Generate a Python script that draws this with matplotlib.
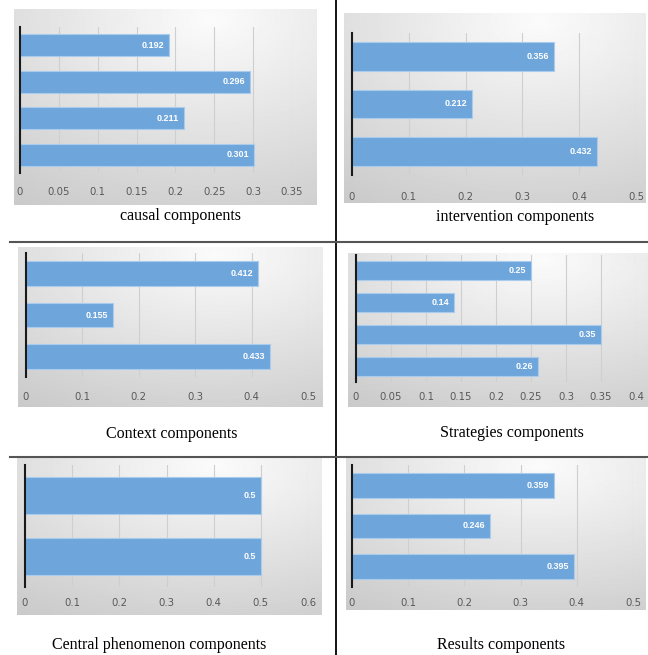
import numpy as np
import matplotlib
matplotlib.use("Agg")
import matplotlib.pyplot as plt

# values per panel, top bar first
causal = [0.192, 0.296, 0.211, 0.301]
intervention = [0.356, 0.212, 0.432]
context = [0.412, 0.155, 0.433]
strategies = [0.25, 0.14, 0.35, 0.26]
central = [0.5, 0.5]
results = [0.359, 0.246, 0.395]

causal_ticks = [0, 0.05, 0.1, 0.15, 0.2, 0.25, 0.3, 0.35]
intervention_ticks = [0, 0.1, 0.2, 0.3, 0.4, 0.5]
context_ticks = [0, 0.1, 0.2, 0.3, 0.4, 0.5]
strategies_ticks = [0, 0.05, 0.1, 0.15, 0.2, 0.25, 0.3, 0.35, 0.4]
central_ticks = [0, 0.1, 0.2, 0.3, 0.4, 0.5, 0.6]
results_ticks = [0, 0.1, 0.2, 0.3, 0.4, 0.5]

captions = ["causal components", "intervention components", "Context components",
            "Strategies components", "Central phenomenon components", "Results components"]

W, H = 648, 655
fig = plt.figure(figsize=(W / 100, H / 100), dpi=100)
fig.patch.set_facecolor("white")

BAR = "#6ea6dc"


def px_axes(x0, y0, x1, y1, **kw):
    # pixel box (top-left origin) -> figure axes
    return fig.add_axes([x0 / W, 1 - y1 / H, (x1 - x0) / W, (y1 - y0) / H], **kw)


def gradient_box(x0, y0, x1, y1):
    bg = px_axes(x0, y0, x1, y1)
    yy, xx = np.mgrid[0:1:200j, 0:1:300j]
    d = np.sqrt((xx - 0.65) ** 2 + (yy - 0.05) ** 2)
    g = np.clip(0.985 - 0.17 * d, 0, 1)
    bg.imshow(g, cmap="gray", vmin=0, vmax=1, aspect="auto", extent=[0, 1, 1, 0])
    bg.axis("off")
    bg.set_zorder(0)


def panel(vals, ticks, box, plot, pad, caption, cap_xy):
    gradient_box(*box)
    ax = px_axes(*plot)
    ax.set_zorder(1)
    ax.patch.set_alpha(0)
    y = np.arange(len(vals))
    ax.barh(y, vals, height=0.6, color=BAR, edgecolor="#a9cbec", linewidth=0.8, zorder=3)
    for yi, v in zip(y, vals):
        ax.text(v - ticks[-1] * 0.018, yi, f"{v:g}", color="white", fontsize=6.5,
                fontweight="bold", family="Liberation Sans", ha="right", va="center", zorder=4)
    ax.set_xlim(0, ticks[-1])
    ax.set_ylim(len(vals) - 0.5, -0.5)
    ax.set_xticks(ticks)
    ax.set_xticklabels([f"{t:g}" for t in ticks])
    ax.set_yticks([])
    ax.grid(axis="x", color="#cfcfcf", linewidth=0.8, zorder=1)
    ax.tick_params(axis="x", length=0, pad=pad, labelsize=7.3, labelcolor="#595959")
    for s in ["top", "right", "bottom"]:
        ax.spines[s].set_visible(False)
    ax.spines["left"].set_color("#1a1a1a")
    ax.spines["left"].set_linewidth(1.5)
    ax.spines["left"].set_zorder(5)
    fig.text(cap_xy[0] / W, 1 - cap_xy[1] / H, caption, family="Liberation Serif",
             fontsize=11.5, ha="center", va="baseline", color="black")


panel(causal, causal_ticks, (14, 9, 317, 205), (20, 27, 292, 173), 10, captions[0], (180, 220))
panel(intervention, intervention_ticks, (344, 13, 645, 203), (352, 33, 636, 175), 12, captions[1], (515, 221))
panel(context, context_ticks, (18, 247, 323, 407), (26, 253, 308, 377), 11, captions[2], (172, 438))
panel(strategies, strategies_ticks, (348, 253, 647, 407), (356, 255, 636, 382), 7, captions[3], (512, 437))
panel(central, central_ticks, (17, 458, 322, 615), (25, 465, 308, 587), 8, captions[4], (159, 649))
panel(results, results_ticks, (346, 458, 645, 610), (352, 465, 633, 587), 8, captions[5], (501, 649))

# table borders
fig.add_artist(plt.Line2D([336 / W, 336 / W], [0, 1], color="black", linewidth=1.3))
for yl in [242, 457]:
    fig.add_artist(plt.Line2D([10 / W, 1], [1 - yl / H, 1 - yl / H], color="#555555", linewidth=1.5))

fig.savefig("out.png", dpi=100)
